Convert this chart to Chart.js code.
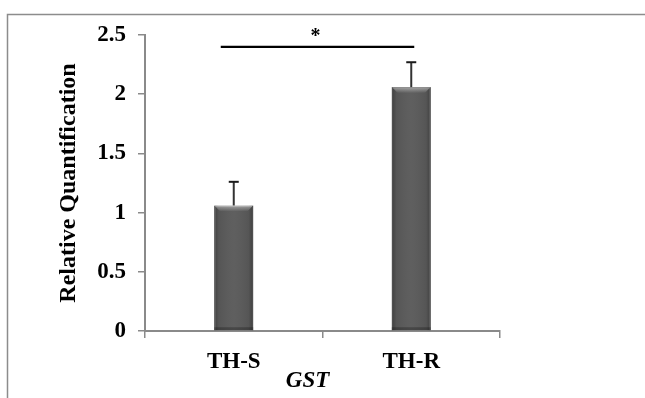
<!DOCTYPE html>
<html>
<head>
<meta charset="utf-8">
<script src="https://cdn.jsdelivr.net/npm/chart.js@4.4.1/dist/chart.umd.min.js"></script>
<style>
  html, body { margin: 0; padding: 0; background: #ffffff; }
  #wrap { width: 645px; height: 398px; position: relative; }
</style>
</head>
<body>
<div id="wrap"><canvas id="c" width="645" height="398"></canvas></div>
<script>
// ---- data ----
const categories = ['TH-S', 'TH-R'];
const values = [1.06, 2.06];
const errors = [0.20, 0.21];
const yTicks = [0, 0.5, 1, 1.5, 2, 2.5];
const yTickLabels = ['0', '0.5', '1', '1.5', '2', '2.5'];
const yTitle = 'Relative Quantification';
const xTitle = 'GST';
const sigPair = [0, 1];
const sigLevel = 2.4;
const sigLabel = '*';

const FONT = "'Liberation Serif', 'Times New Roman', serif";
const AXIS_GRAY = '#8a8a8a';

const framePlugin = {
  id: 'frame',
  beforeDraw(chart) {
    const ctx = chart.ctx;
    ctx.save();
    ctx.fillStyle = '#ffffff';
    ctx.fillRect(0, 0, chart.width, chart.height);
    ctx.strokeStyle = '#8c8c8c';
    ctx.lineWidth = 1.5;
    ctx.beginPath();
    ctx.moveTo(7.5, chart.height);
    ctx.lineTo(7.5, 14.5);
    ctx.lineTo(chart.width, 14.5);
    ctx.stroke();
    ctx.restore();
  }
};

const barStylePlugin = {
  id: 'barStyle',
  afterDatasetsDraw(chart) {
    const ctx = chart.ctx;
    const meta = chart.getDatasetMeta(0);
    ctx.save();
    meta.data.forEach((bar) => {
      const p = bar.getProps(['x', 'y', 'base', 'width'], true);
      const l = p.x - p.width / 2, r = p.x + p.width / 2;
      const g = ctx.createLinearGradient(l, 0, r, 0);
      g.addColorStop(0, 'rgba(0,0,0,0.3)');
      g.addColorStop(0.12, 'rgba(0,0,0,0.05)');
      g.addColorStop(0.5, 'rgba(255,255,255,0.03)');
      g.addColorStop(0.88, 'rgba(0,0,0,0.05)');
      g.addColorStop(1, 'rgba(0,0,0,0.3)');
      ctx.fillStyle = g;
      ctx.fillRect(l, p.y, p.width, p.base - p.y);
      const bh = 6;
      const tg = ctx.createLinearGradient(0, p.y, 0, p.y + bh);
      tg.addColorStop(0, 'rgba(255,255,255,0.45)');
      tg.addColorStop(1, 'rgba(255,255,255,0)');
      ctx.beginPath();
      ctx.moveTo(l, p.y); ctx.lineTo(r, p.y);
      ctx.lineTo(r - bh, p.y + bh); ctx.lineTo(l + bh, p.y + bh);
      ctx.closePath();
      ctx.fillStyle = tg;
      ctx.fill();
      ctx.fillStyle = 'rgba(0,0,0,0.25)';
      ctx.fillRect(l, p.base - 3, p.width, 3);
    });
    ctx.restore();
  }
};

const overlayPlugin = {
  id: 'overlay',
  afterDraw(chart) {
    const ctx = chart.ctx;
    const xs = chart.scales.x, ys = chart.scales.y;
    ctx.save();
    values.forEach((v, i) => {
      const x = xs.getPixelForValue(i);
      const y0 = ys.getPixelForValue(v);
      const y1 = ys.getPixelForValue(v + errors[i]);
      ctx.strokeStyle = '#333333';
      ctx.lineWidth = 2;
      ctx.beginPath();
      ctx.moveTo(x, y0); ctx.lineTo(x, y1);
      ctx.stroke();
      ctx.strokeStyle = '#1a1a1a';
      ctx.beginPath();
      ctx.moveTo(x - 5, y1); ctx.lineTo(x + 5, y1);
      ctx.stroke();
    });
    const x1 = xs.getPixelForValue(sigPair[0]) - 13;
    const x2 = xs.getPixelForValue(sigPair[1]) + 3;
    const ys1 = ys.getPixelForValue(sigLevel);
    ctx.strokeStyle = '#000000';
    ctx.lineWidth = 2.2;
    ctx.beginPath();
    ctx.moveTo(x1, ys1); ctx.lineTo(x2, ys1);
    ctx.stroke();
    ctx.fillStyle = '#000000';
    ctx.font = 'bold 20px ' + FONT;
    ctx.textAlign = 'center';
    ctx.textBaseline = 'alphabetic';
    ctx.fillText(sigLabel, (x1 + x2) / 2 - 2, ys1 - 5);
    ctx.font = 'italic bold 23px ' + FONT;
    ctx.textBaseline = 'middle';
    ctx.fillText(xTitle, (xs.left + xs.right) / 2 - 15, chart.chartArea.bottom + 50);
    ctx.restore();
  }
};

new Chart(document.getElementById('c'), {
  type: 'bar',
  data: {
    labels: categories,
    datasets: [{
      data: values,
      backgroundColor: '#5a5a5a',
      borderColor: '#3e3e3e',
      borderWidth: 1,
      barPercentage: 0.22,
      categoryPercentage: 1.0
    }]
  },
  options: {
    responsive: false,
    animation: false,
    devicePixelRatio: 1,
    layout: { padding: { left: 0, right: 145, top: 35, bottom: 0 } },
    plugins: { legend: { display: false }, tooltip: { enabled: false } },
    scales: {
      x: {
        afterFit(scale) { scale.height = 67; },
        grid: { display: true, drawOnChartArea: false, drawTicks: true, tickLength: 7, color: AXIS_GRAY, lineWidth: 1.5, offset: true },
        border: { display: true, color: AXIS_GRAY, width: 2 },
        ticks: { color: '#000000', padding: 10, font: { family: FONT, size: 23, weight: 'bold' } }
      },
      y: {
        min: 0, max: 2.5,
        afterFit(scale) { scale.width = 145; },
        afterBuildTicks(scale) { scale.ticks = yTicks.map(v => ({ value: v })); },
        grid: { display: true, drawOnChartArea: false, drawTicks: true, tickLength: 7, color: AXIS_GRAY, lineWidth: 1.5 },
        border: { display: true, color: AXIS_GRAY, width: 2 },
        ticks: {
          color: '#000000', padding: 12,
          font: { family: FONT, size: 23, weight: 'bold' },
          callback(value) { const i = yTicks.indexOf(value); return i >= 0 ? yTickLabels[i] : ''; }
        },
        title: { display: true, text: yTitle, color: '#000000', padding: { top: 54, bottom: 0 }, font: { family: FONT, size: 24, weight: 'bold' } }
      }
    }
  },
  plugins: [framePlugin, barStylePlugin, overlayPlugin]
});
</script>
</body>
</html>
